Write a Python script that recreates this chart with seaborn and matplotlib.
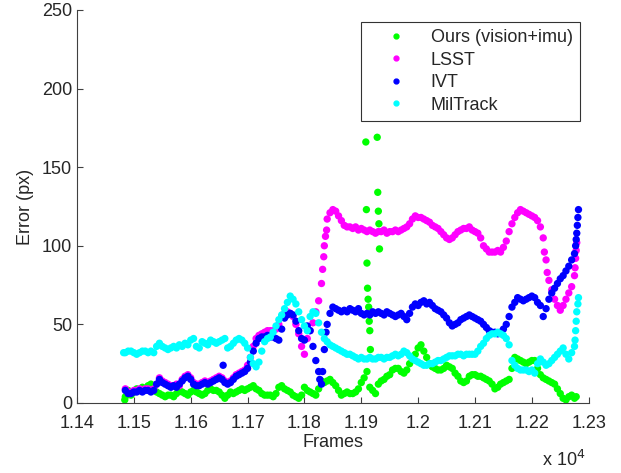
import numpy as np
import pandas as pd
import matplotlib.pyplot as plt
import seaborn as sns

# Data, one value every 5 frames from 11485 to 12275
frames = np.arange(11485, 12280, 5)

ours_err = [4, 8, 5, 7, 9, 8, 10, 9, 11, 12,
            8, 7, 6, 5, 4, 5, 5, 4, 6, 8,
            7, 6, 5, 7, 8, 7, 6, 5, 6, 8,
            9, 8, 8, 7, 5, 3, 5, 7, 6, 7,
            8, 9, 8, 9, 10, 11, 9, 8, 6, 5,
            5, 5, 4, 6, 10, 11, 9, 8, 7, 5,
            4, 3, 5, 10, 8, 7, 6, 5, 9, 14,
            13, 14, 15, 13, 11, 8, 5, 6, 7, 6,
            6, 7, 9, 13, 16, 20, 10, 8, 6, 12,
            14, 15, 17, 18, 21, 22, 22, 20, 19, 21,
            25, 28, 31, 35, 37, 33, 29, 25, 23, 22,
            21, 21, 22, 24, 23, 22, 19, 17, 14, 13,
            14, 17, 18, 18, 17, 17, 16, 15, 14, 12,
            9, 10, 12, 13, 14, 15, 22, 29, 28, 27,
            26, 25, 26, 27, 27, 22, 18, 16, 15, 14,
            13, 12, 9, 6, 3, 2, 4, 5, 3]
# isolated spike around frame 11910-11932 and end point
ours_extra_frames = [11484, 11908, 11909, 11910, 11911, 11912, 11913, 11914, 11915, 11916,
                     11928, 11929, 11930, 11931, 11932, 12278]
ours_extra_err = [2, 166, 123, 89, 73, 66, 61, 52, 46, 34,
                  169, 134, 122, 114, 98, 4]

lsst_err = [9, 7, 7, 8, 8, 9, 8, 9, 9, 8,
            9, 12, 16, 14, 13, 12, 11, 11, 12, 11,
            15, 17, 18, 16, 13, 12, 12, 13, 14, 13,
            14, 15, 16, 17, 16, 14, 13, 14, 16, 18,
            19, 20, 21, 24, 29, 36, 41, 43, 44, 45,
            46, 46, 46, 47, 50, 55, 57, 58, 57, 55,
            50, 44, 36, 31, 41, 46, 51, 58, 65, 76,
            100, 117, 121, 123, 122, 119, 116, 113, 112, 112,
            111, 112, 110, 111, 110, 109, 110, 109, 108, 109,
            109, 110, 108, 109, 109, 110, 109, 110, 111, 112,
            114, 117, 119, 118, 118, 117, 116, 115, 113, 112,
            111, 109, 107, 105, 104, 105, 107, 109, 110, 111,
            111, 112, 110, 109, 108, 105, 100, 98, 96, 96,
            96, 97, 96, 99, 103, 109, 114, 118, 121, 123,
            122, 121, 120, 119, 118, 116, 112, 105, 91, 78,
            72, 66, 62, 59, 62, 66, 70, 74, 81]
lsst_extra_frames = [11832, 11834, 11837, 11839, 12222, 12227, 12276, 12277, 12278, 12279]
lsst_extra_err = [85, 93, 106, 110, 96, 83, 86, 92, 97, 102]

ivt_err = [8, 6, 6, 7, 7, 8, 7, 8, 8, 7,
           8, 12, 15, 13, 12, 11, 10, 11, 10, 12,
           14, 16, 17, 15, 12, 11, 11, 12, 13, 12,
           13, 14, 15, 16, 15, 13, 12, 13, 15, 17,
           18, 19, 20, 22, 26, 33, 38, 41, 42, 42,
           43, 42, 42, 41, 40, 47, 54, 56, 57, 56,
           52, 46, 41, 40, 49, 46, 36, 27, 20, 12,
           34, 50, 57, 61, 60, 59, 58, 59, 58, 60,
           59, 58, 60, 57, 56, 57, 56, 58, 57, 58,
           57, 56, 58, 57, 56, 55, 56, 57, 55, 53,
           57, 61, 63, 62, 64, 65, 63, 64, 62, 60,
           59, 58, 56, 54, 51, 49, 50, 51, 53, 54,
           55, 56, 55, 54, 53, 52, 50, 48, 46, 45,
           45, 44, 45, 47, 50, 55, 61, 64, 67, 66,
           65, 66, 67, 68, 67, 64, 62, 55, 60, 66,
           70, 73, 76, 79, 81, 84, 87, 91, 95]
ivt_extra_frames = [11657, 11827, 11832, 11838, 12277, 12278, 12279, 12280, 12281, 12282]
ivt_extra_err = [24, 15, 20, 45, 100, 104, 108, 113, 118, 123]

mil_err = [32, 33, 33, 32, 31, 32, 33, 33, 32, 33,
           32, 36, 38, 36, 35, 34, 35, 36, 35, 37,
           36, 38, 37, 40, 41, 36, 35, 39, 38, 37,
           40, 39, 38, 39, 40, 41, 35, 36, 38, 40,
           41, 40, 38, 35, 29, 25, 23, 26, 33, 39,
           41, 42, 45, 49, 53, 56, 60, 64, 68, 66,
           63, 58, 53, 49, 46, 55, 58, 57, 51, 45,
           41, 39, 37, 36, 35, 34, 33, 32, 31, 31,
           30, 29, 28, 29, 28, 28, 29, 28, 28, 29,
           29, 28, 29, 29, 30, 31, 30, 31, 33, 32,
           30, 28, 27, 26, 25, 24, 24, 25, 25, 26,
           27, 27, 28, 29, 30, 30, 30, 31, 31, 30,
           31, 31, 31, 31, 33, 36, 38, 41, 43, 44,
           44, 45, 44, 43, 41, 37, 27, 24, 22, 21,
           21, 21, 20, 21, 19, 25, 28, 26, 24, 25,
           27, 29, 31, 33, 35, 31, 28, 32, 36]
mil_extra_frames = [11482, 12276, 12277, 12278, 12279, 12281, 12282]
mil_extra_err = [32, 40, 46, 52, 58, 63, 67]

labels = ['Ours (vision+imu)', 'LSST', 'IVT', 'MilTrack']
colors = ['#00ff00', '#ff00ff', '#0000ff', '#00ffff']


def series(err, extra_f, extra_e, name):
    d = pd.DataFrame({'frame': np.concatenate([frames, extra_f]),
                      'err': np.concatenate([err, extra_e])})
    d['method'] = name
    return d


df = pd.concat([
    series(ours_err, ours_extra_frames, ours_extra_err, labels[0]),
    series(lsst_err, lsst_extra_frames, lsst_extra_err, labels[1]),
    series(ivt_err, ivt_extra_frames, ivt_extra_err, labels[2]),
    series(mil_err, mil_extra_frames, mil_extra_err, labels[3]),
], ignore_index=True)

# Draw Plot
sns.set_style("white", {'xtick.direction': 'in', 'ytick.direction': 'in'})
plt.rcParams['font.family'] = ['Liberation Sans', 'DejaVu Sans']
fig = plt.figure(figsize=(6.21, 4.73), dpi=100)
ax = fig.add_axes([0.124, 0.148, 0.824, 0.831])
sns.scatterplot(data=df, x='frame', y='err', hue='method', hue_order=labels,
                palette=colors, s=28, linewidth=0, ax=ax, legend=False)

for lab, col in zip(labels, colors):
    ax.plot([], [], 'o', color=col, markersize=3.5, label=lab)

# Decoration
ax.set_xlim(11400, 12300)
ax.set_ylim(0, 250)
xt = np.arange(11400, 12301, 100)
ax.set_xticks(xt)
ax.set_xticklabels([f"{t / 1e4:g}" for t in xt])
ax.set_yticks(np.arange(0, 251, 50))
ax.tick_params(axis='both', labelsize=13, length=4, width=0.8, color='#404040',
               bottom=True, left=True)
ax.tick_params(axis='x', pad=9)
ax.tick_params(axis='y', pad=3.5)
for side in ['top', 'right']:
    ax.spines[side].set_visible(False)
for side in ['left', 'bottom']:
    ax.spines[side].set_color('#404040')
    ax.spines[side].set_linewidth(0.8)
ax.set_xlabel('Frames', fontsize=13, labelpad=1)
ax.set_ylabel('Error (px)', fontsize=13, labelpad=6)
fig.text(0.872, 0.015, r'x 10$^4$', fontsize=13)

leg = ax.legend(loc='upper right', bbox_to_anchor=(0.983, 0.969), fontsize=13,
                frameon=True, fancybox=False, edgecolor='black', handletextpad=0.45,
                borderpad=0.4, labelspacing=0.3, handlelength=3.0, borderaxespad=0)
leg.get_frame().set_linewidth(0.8)

plt.savefig('out.png', dpi=100)
